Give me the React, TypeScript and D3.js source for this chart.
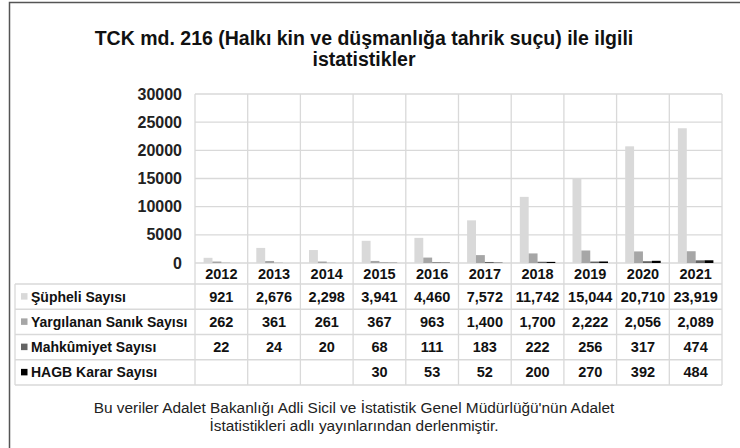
import React, { useEffect, useRef } from "react";
import * as d3 from "d3";

const years = ["2012", "2013", "2014", "2015", "2016", "2017", "2018", "2019", "2020", "2021"];
const seriesNames = ["Şüpheli Sayısı", "Yargılanan Sanık Sayısı", "Mahkûmiyet Sayısı", "HAGB Karar Sayısı"];
const supheli = [921, 2676, 2298, 3941, 4460, 7572, 11742, 15044, 20710, 23919];
const yargilanan = [262, 361, 261, 367, 963, 1400, 1700, 2222, 2056, 2089];
const mahkumiyet = [22, 24, 20, 68, 111, 183, 222, 256, 317, 474];
const hagb = [null, null, null, 30, 53, 52, 200, 270, 392, 484];
const yTicks = [0, 5000, 10000, 15000, 20000, 25000, 30000];
const colors = ["#d9d9d9", "#a6a6a6", "#646464", "#000000"];
const titleLines = ["TCK md. 216 (Halkı kin ve düşmanlığa tahrik suçu) ile ilgili", "istatistikler"];
const noteLines = [
  "Bu veriler Adalet Bakanlığı Adli Sicil ve İstatistik Genel Müdürlüğü'nün Adalet",
  "İstatistikleri adlı yayınlarından derlenmiştir.",
];

const W = 740, H = 448;

export default function App() {
  const ref = useRef<SVGSVGElement>(null);

  useEffect(() => {
    const svg = d3.select(ref.current);
    svg.selectAll("*").remove();
    const font = "'Liberation Sans', Arial, sans-serif";
    const grid = "#d9d9d9";

    const plot = { left: 195, right: 722, top: 94, bottom: 263 };
    const tableLeft = 15, yearBottom = 284, rowH = 25.25;

    const series = [supheli, yargilanan, mahkumiyet, hagb];

    svg.append("rect").attr("width", W).attr("height", H).attr("fill", "#fff");

    // frame (top and left only visible)
    svg.append("path").attr("d", `M9.5,${H} V2.5 H${W}`)
      .attr("fill", "none").attr("stroke", "#555").attr("stroke-width", 1.5);

    // title
    svg.selectAll(".title").data(titleLines).join("text").attr("class", "title")
      .attr("x", 364).attr("y", (d, i) => 45 + i * 21)
      .attr("text-anchor", "middle").attr("font-family", font)
      .attr("font-weight", "bold").attr("font-size", 19.5).attr("fill", "#111")
      .text(d => d);

    const x0 = d3.scaleBand().domain(years).range([plot.left, plot.right]);
    const x1 = d3.scaleBand().domain(seriesNames.map((_, i) => String(i)))
      .range([8.6, x0.bandwidth() - 8.6]);
    const y = d3.scaleLinear().domain([0, 30000]).range([plot.bottom, plot.top]);

    // horizontal grid
    svg.selectAll(".hgrid").data(yTicks).join("line").attr("class", "hgrid")
      .attr("x1", plot.left).attr("x2", plot.right)
      .attr("y1", d => y(d)).attr("y2", d => y(d))
      .attr("stroke", grid).attr("stroke-width", 1.3);

    // vertical grid through plot, year row and table
    const tableBottom = yearBottom + rowH * 4;
    svg.selectAll(".vgrid").data([...years.map(d => x0(d) as number), plot.right]).join("line")
      .attr("class", "vgrid")
      .attr("x1", d => d).attr("x2", d => d)
      .attr("y1", plot.top).attr("y2", tableBottom)
      .attr("stroke", grid).attr("stroke-width", 1.3);

    // table horizontal lines
    svg.selectAll(".trow").data(d3.range(5)).join("line").attr("class", "trow")
      .attr("x1", tableLeft).attr("x2", plot.right)
      .attr("y1", i => yearBottom + i * rowH).attr("y2", i => yearBottom + i * rowH)
      .attr("stroke", grid).attr("stroke-width", 1.3);
    svg.append("line").attr("x1", tableLeft).attr("x2", tableLeft)
      .attr("y1", yearBottom).attr("y2", tableBottom)
      .attr("stroke", grid).attr("stroke-width", 1.3);

    // bars
    series.forEach((vals, si) => {
      svg.append("g").selectAll("rect")
        .data(years.map((yr, i) => ({ yr, v: vals[i] })).filter(d => d.v != null))
        .join("rect")
        .attr("x", d => (x0(d.yr) as number) + (x1(String(si)) as number))
        .attr("y", d => y(d.v as number))
        .attr("width", x1.bandwidth())
        .attr("height", d => plot.bottom - y(d.v as number))
        .attr("fill", colors[si]);
    });

    // y axis labels
    svg.selectAll(".ytick").data(yTicks).join("text").attr("class", "ytick")
      .attr("x", 182).attr("y", d => y(d) + 5.5)
      .attr("text-anchor", "end").attr("font-family", font)
      .attr("font-weight", "bold").attr("font-size", 16).attr("fill", "#222")
      .text(d => String(d));

    // year labels
    svg.selectAll(".year").data(years).join("text").attr("class", "year")
      .attr("x", d => (x0(d) as number) + x0.bandwidth() / 2)
      .attr("y", plot.bottom + 16)
      .attr("text-anchor", "middle").attr("font-family", font)
      .attr("font-weight", "bold").attr("font-size", 14.5).attr("fill", "#111")
      .text(d => d);

    // table rows
    const fmt = d3.format(",");
    series.forEach((vals, si) => {
      const cy = yearBottom + si * rowH + rowH / 2;
      svg.append("rect").attr("x", 21).attr("y", cy - 3.5).attr("width", 6.5).attr("height", 6.5)
        .attr("fill", colors[si]);
      svg.append("text").attr("x", 31).attr("y", cy + 5)
        .attr("font-family", font).attr("font-weight", "bold").attr("font-size", 14)
        .attr("fill", "#111").text(seriesNames[si]);
      svg.append("g").selectAll("text")
        .data(years.map((yr, i) => ({ yr, v: vals[i] })).filter(d => d.v != null))
        .join("text")
        .attr("x", d => (x0(d.yr) as number) + x0.bandwidth() / 2)
        .attr("y", cy + 5)
        .attr("text-anchor", "middle").attr("font-family", font)
        .attr("font-weight", "bold").attr("font-size", 14.5).attr("fill", "#111")
        .text(d => fmt(d.v as number));
    });

    // source note
    svg.selectAll(".note").data(noteLines).join("text").attr("class", "note")
      .attr("x", 354).attr("y", (d, i) => 413 + i * 18)
      .attr("text-anchor", "middle").attr("font-family", font)
      .attr("font-size", 15.4).attr("fill", "#222")
      .text(d => d);
  }, []);

  return (
    <svg ref={ref} width={W} height={H}
      style={{ position: "absolute", left: 0, top: 0, display: "block" }} />
  );
}
